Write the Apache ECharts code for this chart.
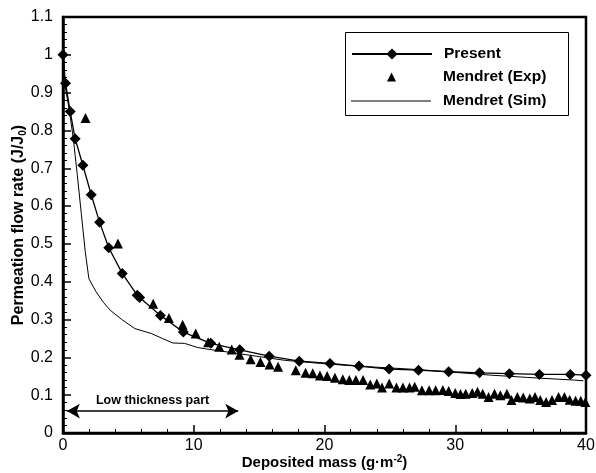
<!DOCTYPE html>
<html>
<head>
<meta charset="utf-8">
<script src="https://cdn.jsdelivr.net/npm/echarts@6/dist/echarts.min.js"></script>
<style>
  html, body { margin: 0; padding: 0; background: #fff; }
  #chart { width: 596px; height: 473px; }
</style>
</head>
<body>
<div id="chart"></div>
<script>
// Present model: [deposited mass, J/J0]
const present = [
  [0, 1.0], [0.19, 0.925], [0.55, 0.85], [0.93, 0.778], [1.52, 0.708],
  [2.16, 0.630], [2.8, 0.557], [3.5, 0.490], [4.53, 0.422], [5.68, 0.364],
  [5.86, 0.358], [7.45, 0.311], [9.2, 0.267], [11.3, 0.237], [13.52, 0.220],
  [15.77, 0.203], [18.07, 0.190], [20.42, 0.184], [22.64, 0.177], [24.94, 0.169],
  [27.19, 0.166], [29.5, 0.162], [31.86, 0.159], [34.14, 0.157], [36.44, 0.155],
  [38.8, 0.155], [40, 0.153]
]
// Mendret experiment
const mendretExp = [
  [1.72, 0.833], [4.2, 0.501], [6.9, 0.342], [8.1, 0.304], [9.15, 0.286],
  [10.15, 0.263], [11.1, 0.240], [11.95, 0.228], [12.9, 0.221], [13.5, 0.207],
  [14.35, 0.195], [15.1, 0.188], [15.8, 0.181], [16.45, 0.175], [17.8, 0.166],
  [18.55, 0.159], [19.1, 0.158], [19.65, 0.152], [20.2, 0.151], [20.8, 0.146],
  [21.4, 0.142], [21.9, 0.140], [22.4, 0.140], [22.95, 0.140], [23.5, 0.128],
  [24.0, 0.131], [24.4, 0.120], [24.95, 0.131], [25.5, 0.120], [26.0, 0.120],
  [26.5, 0.120], [26.9, 0.122], [27.45, 0.113], [28.0, 0.113], [28.5, 0.113],
  [29.05, 0.114], [29.5, 0.111], [30.0, 0.106], [30.4, 0.103], [30.8, 0.104],
  [31.3, 0.106], [31.7, 0.109], [32.1, 0.104], [32.55, 0.095], [33.0, 0.104],
  [33.45, 0.100], [33.95, 0.104], [34.3, 0.087], [34.75, 0.095], [35.2, 0.094],
  [35.7, 0.091], [36.1, 0.095], [36.5, 0.087], [36.95, 0.082], [37.4, 0.087],
  [37.9, 0.095], [38.35, 0.095], [38.75, 0.088], [39.2, 0.085], [39.6, 0.085],
  [39.95, 0.082]
]
// Mendret simulation
const mendretSim = [
  [0, 1.0], [0.12, 0.925], [0.5, 0.85], [0.8, 0.775], [1.1, 0.68],
  [1.4, 0.58], [1.7, 0.48], [1.98, 0.408], [2.5, 0.375], [3.1, 0.345],
  [3.6, 0.325], [4.5, 0.300], [5.5, 0.276], [6.76, 0.263], [7.6, 0.250],
  [8.4, 0.238], [9.3, 0.237], [10.3, 0.226], [11.0, 0.222], [13.0, 0.212],
  [15.0, 0.202], [17.0, 0.192], [19.7, 0.184], [22.0, 0.178], [25.0, 0.172],
  [27.0, 0.168], [29.0, 0.163], [32.7, 0.153], [35.5, 0.147], [38.0, 0.142],
  [39.1, 0.140], [39.8, 0.138]
]
const lowPart = [[0.3, 0.058], [13.4, 0.058]]

const font = '"Liberation Sans", Arial, sans-serif'
const legendText = {
  fontFamily: font,
  fontSize: 15.5,
  fontWeight: 'bold',
  color: '#000'
}

let myChart = echarts.init(document.getElementById('chart'))
myChart.setOption({
  animation: false,
  grid: {
    left: 63,
    right: 10,
    top: 17,
    bottom: 40,
    outerBoundsMode: 'none',
    show: true,
    borderColor: '#000',
    borderWidth: 2.5
  },
  graphic: [{
    type: 'rect',
    left: 345,
    top: 32,
    z: 3,
    shape: { width: 223, height: 83 },
    style: { fill: '#fff', stroke: '#000', lineWidth: 1 }
  }],
  legend: [
    {
      left: 351,
      top: 46,
      padding: 0,
      itemWidth: 80,
      itemHeight: 14,
      data: ['Present'],
      textStyle: Object.assign({ padding: [0, 0, 0, 7] }, legendText)
    },
    {
      left: 387,
      top: 69,
      padding: 0,
      itemWidth: 9,
      itemHeight: 9,
      data: [{ name: 'Mendret (Exp)', icon: 'triangle' }],
      textStyle: Object.assign({ padding: [0, 0, 0, 42] }, legendText)
    },
    {
      left: 351,
      top: 93,
      padding: 0,
      itemWidth: 80,
      itemHeight: 1,
      data: [{ name: 'Mendret (Sim)', icon: 'rect' }],
      textStyle: Object.assign({ padding: [0, 0, 0, 7] }, legendText)
    }
  ],
  xAxis: {
    type: 'value',
    min: 0,
    max: 40,
    interval: 10,
    name: '{a|Deposited mass (g·m}{p|-2}{a|)}',
    nameLocation: 'middle',
    nameGap: 21,
    nameMoveOverlap: false,
    nameTextStyle: {
      rich: {
        a: { fontFamily: font, fontSize: 15, fontWeight: 'bold', color: '#000', lineHeight: 17 },
        p: { fontFamily: font, fontSize: 10, fontWeight: 'bold', color: '#000', verticalAlign: 'top', lineHeight: 17 }
      }
    },
    axisLine: { lineStyle: { color: '#000', width: 2.5 } },
    axisTick: { inside: true, length: 8, lineStyle: { color: '#000', width: 1.5 } },
    minorTick: { show: true, splitNumber: 5, length: 4, lineStyle: { color: '#000', width: 1 } },
    splitLine: { show: false },
    axisLabel: { fontFamily: font, fontSize: 16, color: '#000', margin: 5 }
  },
  yAxis: {
    type: 'value',
    min: 0,
    max: 1.1,
    interval: 0.1,
    name: '{a|Permeation flow rate (J/J}{s|0}{a|)}',
    nameLocation: 'middle',
    nameGap: 35,
    nameMoveOverlap: false,
    nameTextStyle: {
      rich: {
        a: { fontFamily: font, fontSize: 16, fontWeight: 'bold', color: '#000', lineHeight: 18 },
        s: { fontFamily: font, fontSize: 10, fontWeight: 'bold', color: '#000', verticalAlign: 'bottom', lineHeight: 18, padding: [7, 0, 0, 0] }
      }
    },
    axisLine: { lineStyle: { color: '#000', width: 2.5 } },
    axisTick: { inside: true, length: 8, lineStyle: { color: '#000', width: 1.5 } },
    minorTick: { show: true, splitNumber: 5, length: 4, lineStyle: { color: '#000', width: 1 } },
    splitLine: { show: false },
    axisLabel: { fontFamily: font, fontSize: 16, color: '#000', margin: 10 }
  },
  series: [
    {
      name: 'Present',
      type: 'line',
      data: present,
      symbol: 'diamond',
      symbolSize: 11,
      itemStyle: { color: '#000' },
      lineStyle: { color: '#000', width: 1.3 },
      z: 4
    },
    {
      name: 'Mendret (Exp)',
      type: 'scatter',
      data: mendretExp,
      symbol: 'triangle',
      symbolSize: 10,
      itemStyle: { color: '#000', opacity: 1 },
      z: 3
    },
    {
      name: 'Mendret (Sim)',
      type: 'line',
      data: mendretSim,
      symbol: 'none',
      itemStyle: { color: '#000' },
      lineStyle: { color: '#000', width: 1 },
      z: 2,
      markLine: {
        silent: true,
        symbol: ['arrow', 'arrow'],
        symbolSize: [11, 13],
        lineStyle: { color: '#000', width: 1.5, type: 'solid' },
        label: {
          show: true,
          position: 'insideMiddleTop',
          formatter: 'Low thickness part',
          fontFamily: font,
          fontSize: 12.5,
          fontWeight: 'bold',
          color: '#000',
          distance: 4
        },
        data: [[{ coord: lowPart[0] }, { coord: lowPart[1] }]]
      }
    }
  ]
})
</script>
</body>
</html>
